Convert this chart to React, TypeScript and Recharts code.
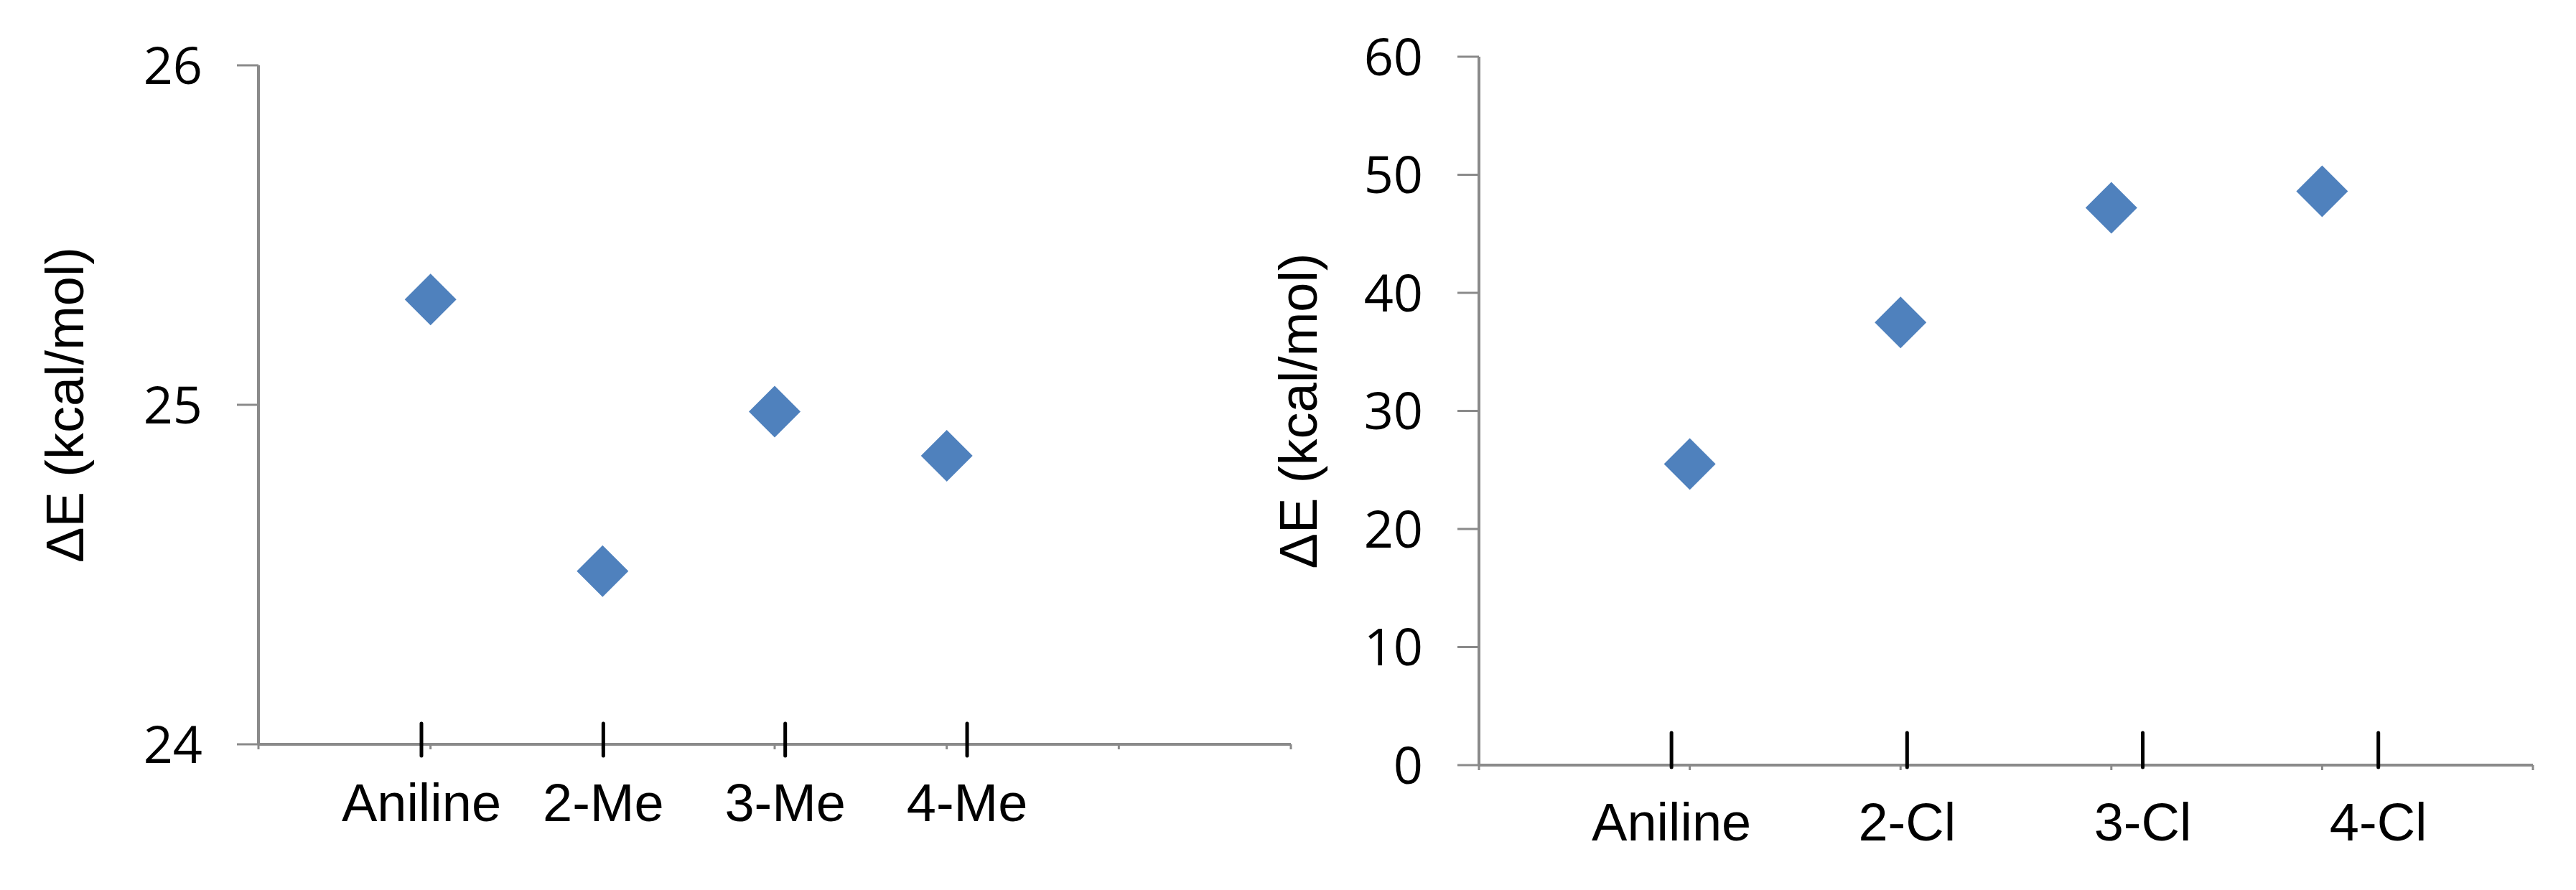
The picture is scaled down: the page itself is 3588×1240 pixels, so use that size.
import React from "react";
import { Scatter, ScatterChart, XAxis, YAxis } from "recharts";

// left panel: methyl anilines
const meLabels = ["Aniline", "2-Me", "3-Me", "4-Me"];
const mePos = [1, 2, 3, 4];
const meEnergy = [25.31, 24.51, 24.98, 24.85];
const meYTicks = [24, 25, 26];
const meXTicks = [0, 1, 2, 3, 4, 5, 6];

// right panel: chloro anilines
const clLabels = ["Aniline", "2-Cl", "3-Cl", "4-Cl"];
const clPos = [1, 2, 3, 4];
const clEnergy = [25.5, 37.5, 47.2, 48.6];
const clYTicks = [0, 10, 20, 30, 40, 50, 60];
const clXTicks = [0, 1, 2, 3, 4, 5];

const labelSlots = [1, 2, 3, 4];

const BLUE = "#4F81BD";
const AXIS = "#8a8a8a";
const TICK_FONT = "'Open Sans', 'Noto Sans', sans-serif";
const LABEL_FONT = "'Liberation Sans', Arial, sans-serif";

interface PanelProps {
  readonly width: number;
  readonly height: number;
  readonly top: number;
  readonly right: number;
  readonly yWidth: number;
  readonly bottomHeight: number;
  readonly xDomain: [number, number];
  readonly xTicks: number[];
  readonly labelDomain: [number, number];
  readonly yDomain: [number, number];
  readonly yTicks: number[];
  readonly labels: string[];
  readonly pos: number[];
  readonly values: number[];
  readonly markAbove: number;
  readonly markBelow: number;
  readonly textDrop: number;
  readonly titleOffset: number;
}

function Diamond(props: any) {
  const { cx, cy } = props;
  const r = 36;
  return (
    <polygon
      points={`${cx},${cy - r} ${cx + r},${cy} ${cx},${cy + r} ${cx - r},${cy}`}
      fill={BLUE}
    />
  );
}

function EmptyTick() {
  return <g />;
}

function NoMark() {
  return <g />;
}

function Panel(p: PanelProps) {
  const data = p.pos.map((x, i) => ({ x, y: p.values[i] }));
  // invisible anchors so the label axis has something to scale
  const anchors = labelSlots.map((x) => ({ x, y: p.yDomain[0] }));

  const CategoryTick = (t: any) => (
    <g>
      <line
        x1={t.x}
        x2={t.x}
        y1={t.y - p.markAbove}
        y2={t.y + p.markBelow}
        stroke="#000"
        strokeWidth={5}
        strokeLinecap="round"
      />
      <text
        x={t.x}
        y={t.y + p.textDrop}
        textAnchor="middle"
        fontSize={74}
        fontFamily={LABEL_FONT}
        fill="#000"
      >
        {p.labels[t.index]}
      </text>
    </g>
  );

  const title = (lp: any) => {
    const vb = lp.viewBox;
    const x = vb.x + vb.width - p.titleOffset;
    const y = vb.y + vb.height / 2;
    return (
      <text
        x={x}
        y={y}
        transform={`rotate(-90 ${x} ${y})`}
        textAnchor="middle"
        dominantBaseline="central"
        fontSize={74}
        fontFamily={LABEL_FONT}
        fill="#000"
      >
        ΔE (kcal/mol)
      </text>
    );
  };

  return (
    <ScatterChart
      width={p.width}
      height={p.height}
      margin={{ top: p.top, right: p.right, bottom: 0, left: 0 }}
    >
      <XAxis
        xAxisId="a_main"
        type="number"
        dataKey="x"
        domain={p.xDomain}
        ticks={p.xTicks}
        height={1}
        tickSize={7}
        tick={<EmptyTick />}
        stroke={AXIS}
        strokeWidth={4}
        tickLine={{ stroke: AXIS, strokeWidth: 3 }}
      />
      <XAxis
        xAxisId="b_label"
        type="number"
        dataKey="x"
        domain={p.labelDomain}
        allowDataOverflow
        ticks={labelSlots}
        height={p.bottomHeight - 1}
        axisLine={false}
        tickLine={false}
        tickSize={0}
        tickMargin={0}
        tick={CategoryTick}
      />
      <YAxis
        type="number"
        dataKey="y"
        domain={p.yDomain}
        ticks={p.yTicks}
        width={p.yWidth}
        tickSize={30}
        tickMargin={48}
        stroke={AXIS}
        strokeWidth={4}
        tickLine={{ stroke: AXIS, strokeWidth: 3 }}
        tick={{ fill: "#000", fontSize: 72, fontFamily: TICK_FONT }}
        label={{ content: title }}
      />
      <Scatter
        xAxisId="b_label"
        data={anchors}
        shape={<NoMark />}
        isAnimationActive={false}
      />
      <Scatter
        xAxisId="a_main"
        data={data}
        shape={<Diamond />}
        isAnimationActive={false}
      />
    </ScatterChart>
  );
}

export default function App() {
  return (
    <div
      style={{
        position: "absolute",
        left: 0,
        top: 0,
        width: 3588,
        height: 1240,
        background: "#fff",
      }}
    >
      <div style={{ position: "absolute", left: 0, top: 0 }}>
        <Panel
          width={1800}
          height={1240}
          top={91}
          right={2}
          yWidth={360}
          bottomHeight={203}
          xDomain={[0, 6]}
          xTicks={meXTicks}
          labelDomain={[0.104, 5.78]}
          yDomain={[24, 26]}
          yTicks={meYTicks}
          labels={meLabels}
          pos={mePos}
          values={meEnergy}
          markAbove={30}
          markBelow={15}
          textDrop={106}
          titleOffset={270}
        />
      </div>
      <div style={{ position: "absolute", left: 1700, top: 0 }}>
        <Panel
          width={1888}
          height={1240}
          top={79}
          right={60}
          yWidth={360}
          bottomHeight={174}
          xDomain={[0, 5]}
          xTicks={clXTicks}
          labelDomain={[0.183, 4.656]}
          yDomain={[0, 60]}
          yTicks={clYTicks}
          labels={clLabels}
          pos={clPos}
          values={clEnergy}
          markAbove={46}
          markBelow={2}
          textDrop={104}
          titleOffset={252}
        />
      </div>
    </div>
  );
}
